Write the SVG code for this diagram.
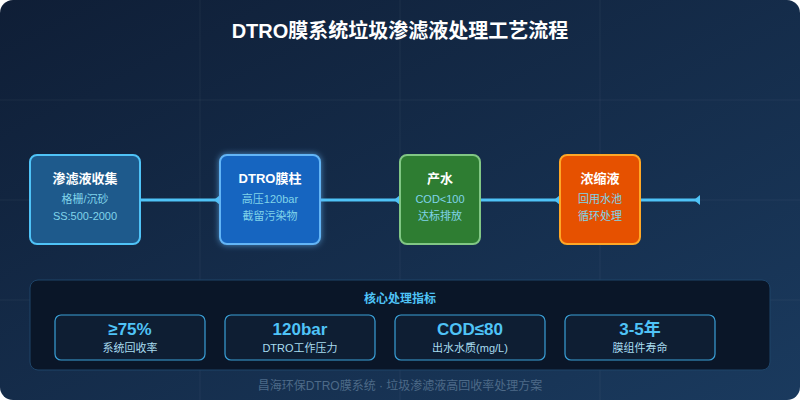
<svg xmlns="http://www.w3.org/2000/svg" width="800" height="400" viewBox="0 0 800 400">
  <defs>
    <linearGradient id="bg" x1="0" y1="0" x2="1" y2="1">
      <stop offset="0" stop-color="#0f1e36"/>
      <stop offset="1" stop-color="#1a3a5e"/>
    </linearGradient>
    <filter id="glow" x="-30%" y="-30%" width="160%" height="160%">
      <feGaussianBlur in="SourceAlpha" stdDeviation="3" result="b"/>
      <feFlood flood-color="#64b5f6" flood-opacity="0.7"/>
      <feComposite in2="b" operator="in" result="g"/>
      <feMerge><feMergeNode in="g"/><feMergeNode in="SourceGraphic"/></feMerge>
    </filter>
    <marker id="arr" markerWidth="6" markerHeight="10" refX="6" refY="5" orient="0" markerUnits="userSpaceOnUse">
      <path d="M0,5 L6,0 L6,10 Z" fill="#4fc3f7"/>
    </marker>
  </defs>
  <style>
    text { font-family: "Liberation Sans", "Noto Sans CJK SC", sans-serif; text-anchor: middle; }
    .title { font-size: 20px; font-weight: bold; fill: #ffffff; }
    .nt { font-size: 13px; font-weight: bold; fill: #ffffff; }
    .ns { font-size: 11px; fill: #80d4ea; }
    .box { stroke-width: 2; }
    .conn { stroke: #4fc3f7; stroke-width: 3; fill: none; }
    .grid { stroke: #ffffff; stroke-opacity: 0.05; stroke-width: 1; }
    .mbox { fill: #0e1e33; stroke: #3a9fd6; stroke-width: 1.2; }
    .mv { font-size: 17px; font-weight: bold; fill: #4fc3f7; }
    .ml { font-size: 11px; fill: #a8dcef; }
    .foot { font-size: 12px; fill: #4d6a88; }
  </style>
  <rect x="0" y="0" width="800" height="400" rx="13" fill="url(#bg)"/>
  <g id="grid">
    <line class="grid" x1="200" y1="0" x2="200" y2="400"/>
    <line class="grid" x1="400" y1="0" x2="400" y2="400"/>
    <line class="grid" x1="600" y1="0" x2="600" y2="400"/>
    <line class="grid" x1="0" y1="100" x2="800" y2="100"/>
    <line class="grid" x1="0" y1="200" x2="800" y2="200"/>
    <line class="grid" x1="0" y1="300" x2="800" y2="300"/>
  </g>
  <text class="title" x="400" y="38">DTRO膜系统垃圾渗滤液处理工艺流程</text>

  <g id="connectors">
    <line class="conn" x1="140" y1="200" x2="220" y2="200" marker-end="url(#arr)"/>
    <line class="conn" x1="320" y1="200" x2="400" y2="200" marker-end="url(#arr)"/>
    <line class="conn" x1="480" y1="200" x2="560" y2="200" marker-end="url(#arr)"/>
    <line class="conn" x1="640" y1="200" x2="700" y2="200" marker-end="url(#arr)"/>
  </g>

  <g id="node-collect">
    <rect class="box" x="30" y="155" width="110" height="89" rx="7" fill="#1e5a8c" stroke="#4fc3f7"/>
    <text class="nt" x="85" y="183">渗滤液收集</text>
    <text class="ns" x="85" y="203">格栅/沉砂</text>
    <text class="ns" x="85" y="220">SS:500-2000</text>
  </g>
  <g id="node-dtro">
    <rect class="box" x="220" y="155" width="100" height="89" rx="7" fill="#1565c0" stroke="#64b5f6" filter="url(#glow)"/>
    <text class="nt" x="270" y="183">DTRO膜柱</text>
    <text class="ns" x="270" y="203">高压120bar</text>
    <text class="ns" x="270" y="220">截留污染物</text>
  </g>
  <g id="node-water">
    <rect class="box" x="400" y="155" width="80" height="89" rx="7" fill="#2e7d32" stroke="#81c784"/>
    <text class="nt" x="440" y="183">产水</text>
    <text class="ns" x="440" y="203">COD&lt;100</text>
    <text class="ns" x="440" y="220">达标排放</text>
  </g>
  <g id="node-concentrate">
    <rect class="box" x="560" y="155" width="80" height="89" rx="7" fill="#e65100" stroke="#ffa726"/>
    <text class="nt" x="600" y="183">浓缩液</text>
    <text class="ns" x="600" y="203">回用水池</text>
    <text class="ns" x="600" y="220">循环处理</text>
  </g>

  <g id="metrics">
    <rect x="30" y="280" width="740" height="90" rx="8" fill="#0a1628" stroke="#1e4468" stroke-width="1"/>
    <text x="400" y="303" style="font-size:12px;font-weight:bold;fill:#4fc3f7">核心处理指标</text>
    <g id="m1">
      <rect class="mbox" x="55" y="315" width="150" height="45" rx="6"/>
      <text class="mv" x="130" y="335">≥75%</text>
      <text class="ml" x="130" y="352">系统回收率</text>
    </g>
    <g id="m2">
      <rect class="mbox" x="225" y="315" width="150" height="45" rx="6"/>
      <text class="mv" x="300" y="335">120bar</text>
      <text class="ml" x="300" y="352">DTRO工作压力</text>
    </g>
    <g id="m3">
      <rect class="mbox" x="395" y="315" width="150" height="45" rx="6"/>
      <text class="mv" x="470" y="335">COD≤80</text>
      <text class="ml" x="470" y="352">出水水质(mg/L)</text>
    </g>
    <g id="m4">
      <rect class="mbox" x="565" y="315" width="150" height="45" rx="6"/>
      <text class="mv" x="640" y="335">3-5年</text>
      <text class="ml" x="640" y="352">膜组件寿命</text>
    </g>
  </g>
  <text class="foot" x="400" y="390">昌海环保DTRO膜系统 · 垃圾渗滤液高回收率处理方案</text>
</svg>
